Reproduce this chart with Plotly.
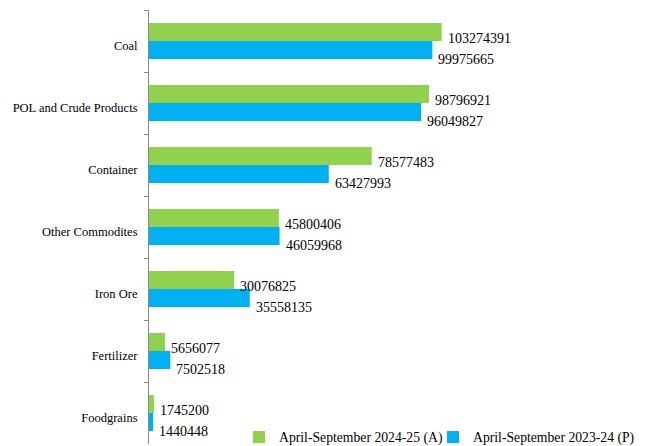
import plotly.graph_objects as go

categories = ["Coal", "POL and Crude Products", "Container", "Other Commodites",
              "Iron Ore", "Fertilizer", "Foodgrains"]
values_2024_25 = [103274391, 98796921, 78577483, 45800406, 30076825, 5656077, 1745200]
values_2023_24 = [99975665, 96049827, 63427993, 46059968, 35558135, 7502518, 1440448]
series_names = ["April-September 2024-25 (A)", "April-September 2023-24 (P)"]
colors = ["#92D050", "#00B0F0"]

FONT = "Liberation Serif"

fig = go.Figure()
fig.add_trace(go.Bar(y=categories, x=values_2024_25, orientation="h",
                     name=series_names[0], marker_color=colors[0],
                     marker_line_width=0, legend="legend"))
fig.add_trace(go.Bar(y=categories, x=values_2023_24, orientation="h",
                     name=series_names[1], marker_color=colors[1],
                     marker_line_width=0, legend="legend2"))

annotations = []
for cat, v in zip(categories, values_2024_25):
    annotations.append(dict(x=v, y=cat, xref="x", yref="y", text=str(v),
                            showarrow=False, xanchor="left", yanchor="middle",
                            xshift=4, yshift=3,
                            font=dict(family=FONT, size=14, color="#000")))
for cat, v in zip(categories, values_2023_24):
    annotations.append(dict(x=v, y=cat, xref="x", yref="y", text=str(v),
                            showarrow=False, xanchor="left", yanchor="middle",
                            xshift=4, yshift=-18,
                            font=dict(family=FONT, size=14, color="#000")))

# page body has an 8px margin; figure is sized/placed to compensate
W, H = 637, 438
L, T, B = 141, 2, 2
PW = W - L
legend_common = dict(orientation="h", yanchor="middle", y=0.016, xanchor="left",
                     font=dict(family=FONT, size=13.7, color="#000"),
                     bgcolor="rgba(0,0,0,0)", borderwidth=0)

fig.update_layout(
    width=W, height=H,
    margin=dict(l=L, r=0, t=T, b=B, autoexpand=False),
    paper_bgcolor="white", plot_bgcolor="white",
    barmode="group", bargap=0.42, bargroupgap=0,
    annotations=annotations,
    showlegend=True,
    legend=dict(x=(231 - L) / PW, **legend_common),
    legend2=dict(x=(425 - L) / PW, **legend_common),
    font=dict(family=FONT, color="#000"),
)
fig.update_xaxes(range=[0, 175000000], visible=False, showgrid=False, zeroline=False)
fig.update_yaxes(autorange="reversed", showline=True, linecolor="#888888", linewidth=1,
                 ticks="outside", ticklen=4, tickcolor="#888888", tickson="boundaries",
                 ticklabelstandoff=8, ticklabelshift=-5, showgrid=False, automargin=False,
                 tickfont=dict(family=FONT, size=12.5, color="#000"))

fig.write_html("out.html")
